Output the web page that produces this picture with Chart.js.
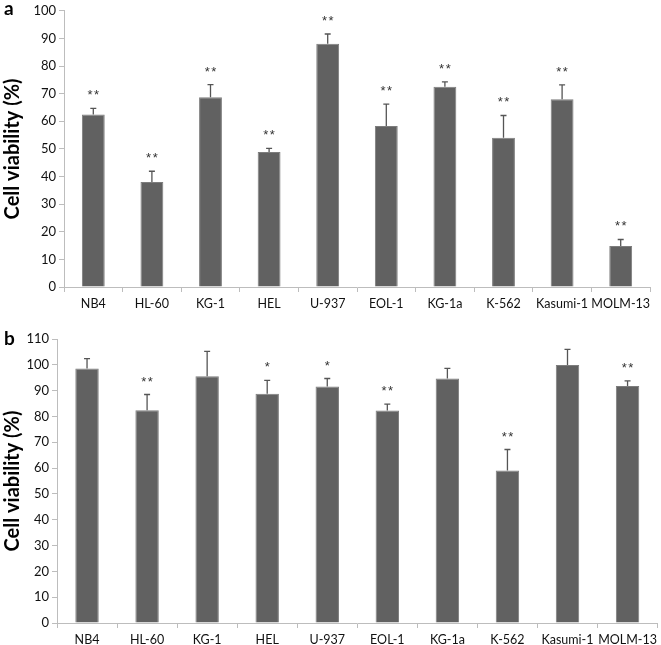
<!DOCTYPE html>
<html>
<head>
<meta charset="utf-8">
<script src="https://cdn.jsdelivr.net/npm/chart.js@4"></script>
<style>
  body { margin: 0; background: #fff; }
  .panel { position: absolute; left: 0; width: 661px; }
  .lbl { position: absolute; font: bold 19px Lato, "Liberation Sans", sans-serif; color: #000; }
</style>
</head>
<body>
<div class="panel" style="top:0;height:315px"><canvas id="chartA" width="661" height="315"></canvas></div>
<div class="panel" style="top:320px;height:325px"><canvas id="chartB" width="661" height="325"></canvas></div>
<div class="lbl" style="left:4px;top:-4px">a</div>
<div class="lbl" style="left:4px;top:326px">b</div>
<script>
// cell lines
const cells = ["NB4", "HL-60", "KG-1", "HEL", "U-937", "EOL-1", "KG-1a", "K-562", "Kasumi-1", "MOLM-13"];

// panel a
const viabA = [62.5, 38, 68.7, 48.9, 88.1, 58.3, 72.5, 54, 68, 14.8];
const errA = [2.2, 3.9, 4.6, 1.3, 3.5, 7.9, 1.8, 8.1, 5.2, 2.4];
const starsA = ["**", "**", "**", "**", "**", "**", "**", "**", "**", "**"];

// panel b
const viabB = [98.6, 82.4, 95.6, 88.8, 91.6, 82.3, 94.7, 59.1, 99.9, 91.8];
const errB = [3.8, 6.1, 9.6, 5.2, 3.1, 2.5, 3.9, 8.1, 6.1, 2.0];
const starsB = ["", "**", "", "*", "*", "**", "", "**", "", "**"];

const fontFam = "Lato, 'Liberation Sans', sans-serif";

// draws upper error bars and significance stars
const errPlugin = {
  id: 'errStars',
  afterDatasetsDraw(chart, args, opts) {
    const ctx = chart.ctx;
    const meta = chart.getDatasetMeta(0);
    const y = chart.scales.y;
    const vals = chart.data.datasets[0].data;
    ctx.save();
    meta.data.forEach((bar, i) => {
      const top = y.getPixelForValue(vals[i] + opts.err[i]);
      const base = y.getPixelForValue(vals[i]);
      ctx.strokeStyle = '#555';
      ctx.lineWidth = 1.3;
      ctx.beginPath();
      ctx.moveTo(bar.x, base);
      ctx.lineTo(bar.x, top);
      ctx.moveTo(bar.x - 3, top);
      ctx.lineTo(bar.x + 3, top);
      ctx.stroke();
      if (opts.stars[i]) {
        ctx.fillStyle = '#333';
        ctx.font = '13px "Liberation Sans", sans-serif';
        ctx.letterSpacing = '1.5px';
        ctx.textAlign = 'center';
        ctx.textBaseline = 'alphabetic';
        ctx.fillText(opts.stars[i], bar.x + 0.75, top - 9);
      }
    });
    ctx.restore();
  }
};

function makeChart(id, vals, err, stars, yMax, yWidth, xHeight, pad) {
  return new Chart(document.getElementById(id), {
    type: 'bar',
    data: {
      labels: cells,
      datasets: [{
        data: vals,
        backgroundColor: '#616161',
        borderColor: '#7d7d7d',
        borderWidth: 1,
        barPercentage: 0.78,
        categoryPercentage: 0.5
      }]
    },
    options: {
      responsive: false,
      animation: false,
      layout: { padding: pad },
      plugins: {
        legend: { display: false },
        tooltip: { enabled: false },
        errStars: { err: err, stars: stars }
      },
      scales: {
        x: {
          grid: { display: true, drawOnChartArea: false, offset: true, color: '#bdbdbd', tickLength: 5 },
          border: { color: '#bdbdbd', width: 1 },
          ticks: { color: '#111', font: { family: fontFam, size: 12.5 }, maxRotation: 0, autoSkip: false, padding: 4 },
          afterFit(s) { s.height = xHeight; }
        },
        y: {
          min: 0,
          max: yMax,
          grid: { display: true, drawOnChartArea: false, color: '#bdbdbd', tickLength: 5 },
          border: { color: '#bdbdbd', width: 1 },
          ticks: { stepSize: 10, color: '#111', font: { family: fontFam, size: 13 }, padding: 3 },
          title: { display: true, text: 'Cell viability (%)', color: '#000', font: { family: fontFam, size: 20, weight: 'bold' }, padding: { top: 1, bottom: 4 } },
          afterFit(s) { s.width = yWidth; }
        }
      }
    },
    plugins: [errPlugin]
  });
}

makeChart('chartA', viabA, errA, starsA, 100, 64, 28, { top: 6, right: 11, left: 0, bottom: 0 });
makeChart('chartB', viabB, errB, starsB, 110, 57, 22, { top: 19, right: 1, left: 0, bottom: 0 });
</script>
</body>
</html>
